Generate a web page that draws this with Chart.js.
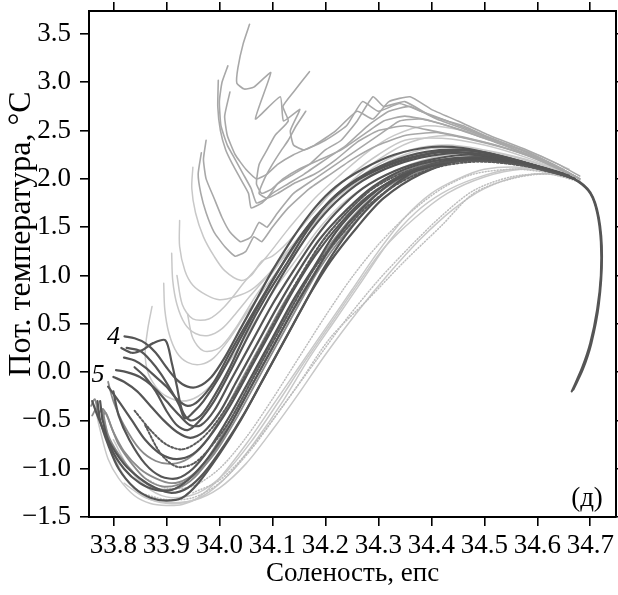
<!DOCTYPE html>
<html>
<head>
<meta charset="utf-8">
<script src="https://cdn.jsdelivr.net/npm/chart.js@4.4.1/dist/chart.umd.min.js"></script>
<style>
  html, body { margin: 0; padding: 0; background: #fff; }
  #tsChart { display: block; }
</style>
</head>
<body>
<canvas id="tsChart" width="618" height="595" style="width:618px;height:595px"></canvas>
<script>
// tick labels
const xTicks = [33.8, 33.9, 34.0, 34.1, 34.2, 34.3, 34.4, 34.5, 34.6, 34.7];
const yTicks = [-1.5, -1.0, -0.5, 0, 0.5, 1.0, 1.5, 2.0, 2.5, 3.0, 3.5];

// profiles: [salinity, pot. temperature]
// warm upper group
const warm1 = [[34.057,3.6],[34.045,3.4],[34.035,3.15],[34.033,2.99],[34.047,2.93],[34.065,2.95],[34.097,3.1],[34.068,2.62],[34.115,2.85],[34.121,2.6],[34.152,2.72],[34.134,2.5],[34.14,2.35],[34.16,2.3],[34.2,2.4],[34.24,2.55],[34.27,2.8],[34.3,2.7],[34.34,2.78],[34.38,2.7],[34.43,2.6],[34.5,2.45],[34.57,2.3],[34.63,2.15],[34.68,2.0]];
const warm2 = [[34.016,3.17],[34.005,3.0],[34.0,2.8],[34.003,2.55],[34.015,2.35],[34.03,2.2],[34.045,2.05],[34.06,1.9],[34.07,1.75],[34.09,1.8],[34.11,1.95],[34.14,2.05],[34.17,2.15],[34.2,2.3],[34.23,2.4],[34.26,2.6],[34.29,2.85],[34.31,2.75],[34.35,2.8],[34.4,2.65],[34.46,2.55],[34.52,2.4],[34.58,2.28],[34.64,2.12],[34.68,2.0]];
const warm3 = [[33.998,3.02],[33.997,2.75],[34.002,2.5],[34.012,2.3],[34.025,2.15],[34.04,2.0],[34.055,1.85],[34.06,1.7],[34.08,1.75],[34.1,1.85],[34.13,1.95],[34.16,2.05],[34.2,2.2],[34.24,2.35],[34.28,2.55],[34.32,2.7],[34.36,2.75],[34.41,2.62],[34.47,2.5],[34.53,2.37],[34.6,2.2],[34.66,2.06]];
const warm4 = [[34.17,3.11],[34.14,2.9],[34.12,2.75],[34.13,2.6],[34.105,2.45],[34.09,2.3],[34.075,2.15],[34.07,1.95],[34.08,1.85],[34.1,1.9],[34.12,2.0],[34.15,2.1],[34.19,2.2],[34.23,2.3],[34.27,2.45],[34.31,2.6],[34.35,2.65],[34.4,2.6],[34.46,2.5],[34.52,2.38],[34.58,2.26],[34.64,2.12],[34.68,2.0]];
const warm5 = [[34.163,2.7],[34.145,2.55],[34.13,2.4],[34.115,2.28],[34.1,2.15],[34.085,2.0],[34.075,1.85],[34.09,1.8],[34.11,1.85],[34.14,1.95],[34.18,2.05],[34.22,2.2],[34.26,2.38],[34.3,2.5],[34.35,2.55],[34.4,2.5],[34.47,2.42],[34.54,2.32],[34.6,2.2],[34.66,2.05]];
const warm6 = [[33.975,2.4],[33.97,2.2],[33.975,2.0],[33.99,1.8],[34.005,1.6],[34.02,1.45],[34.04,1.35],[34.06,1.4],[34.075,1.55],[34.09,1.5],[34.11,1.65],[34.14,1.85],[34.18,2.0],[34.22,2.15],[34.26,2.3],[34.3,2.45],[34.34,2.6],[34.38,2.62],[34.43,2.55],[34.5,2.42],[34.57,2.3],[34.63,2.15],[34.68,2.0]];
const warm7 = [[33.966,2.27],[33.96,2.05],[33.965,1.85],[33.975,1.65],[33.99,1.45],[34.01,1.3],[34.03,1.2],[34.05,1.25],[34.065,1.4],[34.08,1.35],[34.1,1.5],[34.13,1.7],[34.17,1.9],[34.21,2.05],[34.25,2.2],[34.3,2.35],[34.35,2.45],[34.41,2.48],[34.48,2.4],[34.55,2.3],[34.62,2.17],[34.68,2.0]];
const warm8 = [[34.02,2.9],[34.01,2.65],[34.015,2.45],[34.03,2.25],[34.05,2.1],[34.07,2.0],[34.09,2.05],[34.11,2.15],[34.14,2.25],[34.18,2.35],[34.22,2.5],[34.26,2.7],[34.29,2.62],[34.32,2.8],[34.36,2.85],[34.4,2.72],[34.45,2.6],[34.51,2.45],[34.58,2.3],[34.64,2.15],[34.68,2.03]];

// middle light group
const mid1 = [[33.95,2.12],[33.948,1.9],[33.955,1.65],[33.97,1.4],[33.99,1.2],[34.01,1.05],[34.04,0.95],[34.06,1.0],[34.08,1.15],[34.1,1.2],[34.13,1.35],[34.17,1.6],[34.21,1.85],[34.25,2.05],[34.3,2.25],[34.35,2.4],[34.42,2.42],[34.5,2.35],[34.58,2.22],[34.66,2.05]];
const mid2 = [[33.925,1.57],[33.925,1.3],[33.935,1.05],[33.95,0.9],[33.975,0.8],[34.0,0.75],[34.03,0.78],[34.06,0.85],[34.09,1.0],[34.12,1.2],[34.16,1.45],[34.2,1.7],[34.25,1.95],[34.3,2.15],[34.36,2.3],[34.43,2.35],[34.5,2.3],[34.58,2.2],[34.66,2.04]];
const mid3 = [[33.91,1.23],[33.912,0.95],[33.92,0.7],[33.935,0.5],[33.955,0.4],[33.98,0.38],[34.005,0.45],[34.03,0.6],[34.06,0.8],[34.1,1.05],[34.14,1.3],[34.18,1.55],[34.22,1.8],[34.27,2.0],[34.32,2.18],[34.38,2.3],[34.45,2.32],[34.52,2.27],[34.6,2.16],[34.67,2.02]];
const mid4 = [[33.895,0.92],[33.897,0.65],[33.905,0.4],[33.92,0.2],[33.94,0.1],[33.965,0.08],[33.99,0.15],[34.02,0.35],[34.05,0.6],[34.09,0.9],[34.13,1.2],[34.17,1.48],[34.21,1.72],[34.26,1.95],[34.31,2.12],[34.37,2.25],[34.44,2.3],[34.52,2.25],[34.6,2.15],[34.67,2.02]];
const mid5 = [[33.873,0.68],[33.865,0.45],[33.86,0.2],[33.865,0.0],[33.88,-0.15],[33.9,-0.25],[33.93,-0.3],[33.96,-0.25],[33.99,-0.1],[34.03,0.2],[34.07,0.55],[34.11,0.9],[34.15,1.2],[34.19,1.5],[34.24,1.78],[34.3,2.0],[34.36,2.15],[34.43,2.25],[34.5,2.25],[34.58,2.17],[34.66,2.04]];
const mid6 = [[33.94,0.6],[33.95,0.35],[33.97,0.22],[34.0,0.25],[34.03,0.45],[34.07,0.8],[34.11,1.1],[34.15,1.4],[34.2,1.72],[34.25,1.98],[34.3,2.2],[34.36,2.38],[34.43,2.45],[34.5,2.38],[34.58,2.25],[34.65,2.1]];
const mid7 = [[33.92,1.0],[33.93,0.7],[33.95,0.55],[33.98,0.55],[34.01,0.68],[34.05,0.95],[34.09,1.2],[34.13,1.48],[34.18,1.8],[34.23,2.05],[34.28,2.28],[34.33,2.45],[34.39,2.55],[34.46,2.5],[34.53,2.38],[34.6,2.25],[34.66,2.1]];

// dark group (labels 4 and 5)
const dark1 = [[33.821,0.37],[33.84,0.35],[33.86,0.3],[33.88,0.2],[33.9,0.05],[33.92,-0.08],[33.94,-0.15],[33.96,-0.15],[33.985,-0.05],[34.01,0.15],[34.04,0.45],[34.07,0.75],[34.1,1.05],[34.14,1.4],[34.18,1.7],[34.22,1.92],[34.27,2.1],[34.33,2.25],[34.4,2.33],[34.46,2.32],[34.52,2.25],[34.58,2.16],[34.64,2.07],[34.675,1.98],[34.7,1.85],[34.713,1.65],[34.72,1.35],[34.72,1.0],[34.713,0.65],[34.7,0.3],[34.685,0.05],[34.665,-0.2]];
const dark2 = [[33.815,0.25],[33.835,0.2],[33.855,0.23],[33.875,0.3],[33.898,0.33],[33.91,0.1],[33.92,-0.15],[33.93,-0.4],[33.945,-0.5],[33.965,-0.45],[33.99,-0.25],[34.02,0.05],[34.05,0.4],[34.09,0.8],[34.13,1.15],[34.17,1.5],[34.21,1.78],[34.26,2.0],[34.32,2.17],[34.39,2.28],[34.46,2.3],[34.53,2.24],[34.6,2.13],[34.67,2.0],[34.7,1.86],[34.716,1.6],[34.722,1.2],[34.716,0.7],[34.702,0.3],[34.686,0.03],[34.668,-0.18]];
const dark3 = [[33.82,0.15],[33.84,0.12],[33.86,0.05],[33.88,-0.05],[33.9,-0.15],[33.92,-0.28],[33.94,-0.35],[33.96,-0.3],[33.99,-0.1],[34.02,0.2],[34.06,0.58],[34.1,0.95],[34.14,1.3],[34.18,1.6],[34.23,1.88],[34.29,2.08],[34.36,2.22],[34.43,2.28],[34.5,2.25],[34.58,2.15],[34.66,2.03]];
const dark4 = [[33.805,0.02],[33.825,0.0],[33.85,-0.05],[33.875,-0.15],[33.9,-0.3],[33.925,-0.45],[33.945,-0.55],[33.965,-0.55],[33.99,-0.4],[34.02,-0.1],[34.06,0.3],[34.1,0.7],[34.14,1.05],[34.18,1.38],[34.22,1.65],[34.27,1.9],[34.33,2.08],[34.4,2.2],[34.47,2.25],[34.54,2.2],[34.61,2.11],[34.67,2.0]];
const dark5 = [[33.8,-0.05],[33.82,-0.1],[33.845,-0.2],[33.87,-0.35],[33.895,-0.5],[33.92,-0.62],[33.945,-0.68],[33.97,-0.62],[34.0,-0.42],[34.03,-0.12],[34.07,0.28],[34.11,0.68],[34.15,1.05],[34.19,1.38],[34.24,1.68],[34.29,1.92],[34.35,2.1],[34.42,2.2],[34.5,2.22],[34.58,2.15],[34.66,2.03]];
const dark6 = [[33.825,0.25],[33.85,0.22],[33.87,0.12],[33.89,-0.02],[33.91,-0.2],[33.925,-0.35],[33.935,-0.48],[33.95,-0.42],[33.97,-0.3],[34.0,-0.05],[34.035,0.3],[34.075,0.7],[34.115,1.08],[34.155,1.42],[34.2,1.72],[34.25,1.95],[34.31,2.12],[34.38,2.24],[34.45,2.3],[34.52,2.25],[34.6,2.13],[34.67,2.0]];
const dark7 = [[33.84,0.05],[33.86,-0.05],[33.88,-0.2],[33.9,-0.4],[33.92,-0.55],[33.94,-0.6],[33.96,-0.52],[33.99,-0.3],[34.02,0.0],[34.055,0.38],[34.095,0.78],[34.135,1.15],[34.175,1.48],[34.22,1.76],[34.27,1.98],[34.33,2.14],[34.4,2.24],[34.47,2.27],[34.55,2.2],[34.62,2.1],[34.67,2.0]];
const dark8 = [[33.79,-0.15],[33.81,-0.3],[33.835,-0.5],[33.86,-0.7],[33.89,-0.85],[33.92,-0.9],[33.95,-0.85],[33.98,-0.68],[34.02,-0.35],[34.06,0.05],[34.1,0.45],[34.14,0.85],[34.18,1.2],[34.23,1.55],[34.28,1.82],[34.34,2.02],[34.41,2.15],[34.49,2.2],[34.57,2.15],[34.65,2.04]];
const dark9 = [[33.775,-0.3],[33.78,-0.5],[33.795,-0.78],[33.82,-1.0],[33.85,-1.15],[33.88,-1.22],[33.91,-1.22],[33.94,-1.12],[33.98,-0.88],[34.02,-0.55],[34.06,-0.15],[34.1,0.25],[34.14,0.65],[34.18,1.02],[34.22,1.38],[34.27,1.7],[34.33,1.98],[34.4,2.13],[34.48,2.2],[34.57,2.16],[34.65,2.05]];

// cold group
const cold1 = [[33.765,-0.35],[33.775,-0.6],[33.79,-0.9],[33.81,-1.1],[33.84,-1.28],[33.87,-1.36],[33.9,-1.38],[33.93,-1.37],[33.96,-1.3],[34.0,-1.1],[34.05,-0.75],[34.1,-0.35],[34.15,0.05],[34.2,0.45],[34.25,0.85],[34.3,1.25],[34.35,1.6],[34.4,1.85],[34.45,2.0],[34.5,2.1],[34.57,2.12],[34.64,2.05]];
const cold2 = [[33.77,-0.3],[33.775,-0.5],[33.79,-0.75],[33.81,-1.0],[33.84,-1.2],[33.87,-1.3],[33.9,-1.33],[33.93,-1.3],[33.96,-1.15],[34.0,-0.85],[34.04,-0.5],[34.08,-0.1],[34.12,0.3],[34.16,0.7],[34.2,1.1],[34.25,1.5],[34.3,1.8],[34.36,2.05],[34.42,2.18],[34.5,2.2],[34.58,2.15],[34.65,2.05]];
const cold3 = [[33.78,-0.4],[33.79,-0.65],[33.81,-0.85],[33.84,-1.05],[33.87,-1.18],[33.9,-1.22],[33.93,-1.18],[33.96,-1.05],[34.0,-0.75],[34.04,-0.35],[34.08,0.05],[34.12,0.45],[34.16,0.85],[34.2,1.2],[34.25,1.55],[34.3,1.85],[34.37,2.08],[34.45,2.2],[34.55,2.18],[34.64,2.06]];
const cold4 = [[33.8,-0.2],[33.81,-0.45],[33.83,-0.7],[33.86,-0.95],[33.89,-1.08],[33.92,-1.1],[33.95,-1.0],[33.98,-0.8],[34.02,-0.45],[34.06,-0.05],[34.1,0.35],[34.14,0.75],[34.18,1.1],[34.22,1.45],[34.27,1.75],[34.33,2.0],[34.4,2.15],[34.48,2.22],[34.56,2.17],[34.64,2.06]];
const cold5 = [[33.79,-0.1],[33.8,-0.3],[33.82,-0.55],[33.85,-0.8],[33.88,-0.92],[33.91,-0.95],[33.94,-0.9],[33.97,-0.75],[34.0,-0.5],[34.04,-0.1],[34.08,0.3],[34.12,0.7],[34.16,1.05],[34.2,1.4],[34.25,1.7],[34.3,1.95],[34.37,2.12],[34.45,2.22],[34.55,2.2],[34.64,2.07]];
const cold6 = [[33.85,-1.25],[33.9,-1.32],[33.95,-1.3],[34.0,-1.15],[34.06,-0.8],[34.12,-0.35],[34.18,0.1],[34.24,0.55],[34.3,0.95],[34.36,1.3],[34.42,1.62],[34.48,1.88],[34.55,2.02],[34.62,2.05],[34.68,1.98]];
const cold7 = [[33.78,-0.45],[33.8,-0.85],[33.83,-1.15],[33.87,-1.32],[33.92,-1.36],[33.97,-1.28],[34.02,-1.05],[34.07,-0.7],[34.12,-0.3],[34.17,0.15],[34.22,0.55],[34.27,0.95],[34.32,1.35],[34.37,1.65],[34.42,1.85],[34.48,2.0],[34.55,2.1],[34.63,2.07],[34.68,1.97]];
const cold8 = [[33.76,-0.3],[33.77,-0.45],[33.79,-0.7],[33.82,-0.95],[33.85,-1.1],[33.88,-1.2],[33.91,-1.25],[33.94,-1.2],[33.97,-1.05],[34.01,-0.75],[34.05,-0.4],[34.09,0.0],[34.13,0.4],[34.17,0.8],[34.21,1.15],[34.26,1.5],[34.31,1.8],[34.38,2.05],[34.46,2.2],[34.55,2.2],[34.65,2.05]];
const cold9 = [[33.758,-0.35],[33.765,-0.28],[33.772,-0.42],[33.78,-0.38],[33.79,-0.48],[33.8,-0.62],[33.82,-0.82],[33.85,-1.0],[33.88,-1.1],[33.91,-1.15],[33.94,-1.1],[33.97,-0.95],[34.0,-0.7],[34.04,-0.3],[34.08,0.12],[34.12,0.52],[34.16,0.9],[34.2,1.25],[34.25,1.6],[34.31,1.9],[34.38,2.1],[34.46,2.2],[34.55,2.18],[34.64,2.06]];
const cold10 = [[33.84,-0.4],[33.87,-0.6],[33.9,-0.75],[33.93,-0.8],[33.96,-0.72],[33.99,-0.55],[34.03,-0.22],[34.07,0.18],[34.11,0.58],[34.15,0.97],[34.19,1.32],[34.24,1.65],[34.29,1.9],[34.35,2.07],[34.42,2.17],[34.5,2.18],[34.58,2.13],[34.66,2.02]];
const cold11 = [[33.86,-1.1],[33.9,-1.2],[33.95,-1.18],[34.0,-1.0],[34.05,-0.68],[34.1,-0.28],[34.15,0.15],[34.2,0.58],[34.25,0.98],[34.3,1.32],[34.36,1.65],[34.42,1.9],[34.48,2.05],[34.56,2.1],[34.64,2.05]];
const cold12 = [[33.95,-1.25],[34.0,-1.12],[34.05,-0.85],[34.1,-0.5],[34.15,-0.12],[34.21,0.36],[34.28,0.75],[34.35,1.15],[34.42,1.52],[34.48,1.85],[34.55,2.0],[34.62,2.05],[34.68,1.97]];
const cold13 = [[33.8,-0.7],[33.83,-1.0],[33.87,-1.22],[33.91,-1.3],[33.96,-1.25],[34.01,-1.05],[34.06,-0.72],[34.11,-0.32],[34.16,0.1],[34.21,0.5],[34.26,0.9],[34.31,1.28],[34.37,1.6],[34.43,1.85],[34.5,2.02],[34.57,2.1],[34.64,2.07]];
const cold14 = [[33.82,-1.15],[33.86,-1.3],[33.9,-1.35],[33.95,-1.33],[34.0,-1.2],[34.05,-0.95],[34.1,-0.6],[34.15,-0.22],[34.2,0.18],[34.26,0.62],[34.32,1.02],[34.38,1.38],[34.44,1.68],[34.5,1.9],[34.57,2.03],[34.64,2.05],[34.68,1.98]];
const cold16 = [[33.76,-0.45],[33.768,-0.38],[33.775,-0.5],[33.785,-0.42],[33.795,-0.55],[33.81,-0.75],[33.835,-0.95],[33.86,-1.1],[33.89,-1.18],[33.92,-1.17],[33.95,-1.08],[33.99,-0.85],[34.03,-0.5],[34.07,-0.1],[34.11,0.3],[34.15,0.7],[34.19,1.08],[34.24,1.45],[34.29,1.75],[34.35,2.0],[34.42,2.15],[34.5,2.2],[34.58,2.15],[34.66,2.04]];
const cold17 = [[33.86,-0.55],[33.89,-0.85],[33.92,-0.98],[33.95,-0.95],[33.98,-0.8],[34.02,-0.5],[34.06,-0.1],[34.1,0.3],[34.14,0.7],[34.18,1.08],[34.23,1.42],[34.28,1.72],[34.34,1.96],[34.41,2.12],[34.49,2.18],[34.57,2.14],[34.65,2.04]];

const STYLES = {
  light:    { color: '#c8c8c8', width: 1.5, dash: [],     order: 4 },
  dotted:   { color: '#bdbdbd', width: 1.5, dash: [1, 2], order: 4 },
  warm:     { color: '#a8a8a8', width: 1.6, dash: [],     order: 3 },
  mid:      { color: '#8a8a8a', width: 1.8, dash: [],     order: 2 },
  dashDark: { color: '#5a5a5a', width: 2,   dash: [2, 2], order: 1 },
  dark:     { color: '#555555', width: 2.2, dash: [],     order: 1 }
};

const profiles = [
  [cold12, 'dotted'], [cold6, 'dotted'], [cold11, 'dotted'],
  [cold1, 'light'], [cold7, 'light'], [cold13, 'light'], [cold14, 'light'],
  [mid1, 'light'], [mid2, 'light'], [mid3, 'light'], [mid4, 'light'], [mid5, 'light'], [mid6, 'light'], [mid7, 'light'],
  [warm1, 'warm'], [warm2, 'warm'], [warm3, 'warm'], [warm4, 'warm'], [warm5, 'warm'], [warm6, 'warm'], [warm7, 'warm'], [warm8, 'warm'],
  [cold3, 'mid'], [cold5, 'mid'], [cold9, 'mid'], [cold16, 'mid'],
  [cold10, 'dashDark'], [cold17, 'dashDark'],
  [cold2, 'dark'], [cold4, 'dark'], [cold8, 'dark'],
  [dark1, 'dark'], [dark2, 'dark'], [dark3, 'dark'], [dark4, 'dark'], [dark5, 'dark'], [dark6, 'dark'],
  [dark7, 'dark'], [dark8, 'dark'], [dark9, 'dark']
];

const datasets = profiles.map(([pts, kind]) => {
  const st = STYLES[kind];
  return {
    data: pts.map(p => ({ x: p[0], y: p[1] })),
    showLine: true,
    borderColor: st.color,
    borderWidth: st.width,
    borderDash: st.dash,
    tension: kind === 'warm' ? 0.15 : 0.3,
    pointRadius: 0,
    order: st.order,
    borderCapStyle: 'round',
    borderJoinStyle: 'round'
  };
});

const SERIF = 'Liberation Serif';
const fmt = v => Number(v).toFixed(1).replace('-', '\u2212');

const setTicks = arr => scale => { scale.ticks = arr.map(v => ({ value: v })); };
const tickGrid = { drawOnChartArea: false, drawTicks: true, tickLength: 9, color: '#000', lineWidth: 1.6 };
const frame = { display: true, color: '#000', width: 2 };
const noPad = s => { s.paddingTop = 0; s.paddingBottom = 0; s.paddingLeft = 0; s.paddingRight = 0; };

const annotations = {
  id: 'annotations',
  afterDraw(chart) {
    const { ctx, chartArea, scales } = chart;
    ctx.save();
    ctx.fillStyle = '#000';
    // y axis title
    ctx.translate(22, 234);
    ctx.rotate(-Math.PI / 2);
    ctx.font = '32px "' + SERIF + '"';
    ctx.textAlign = 'center';
    ctx.textBaseline = 'middle';
    ctx.fillText('Пот. температура, °C', 0, 0);
    ctx.restore();

    ctx.save();
    ctx.fillStyle = '#000';
    ctx.textAlign = 'center';
    ctx.textBaseline = 'middle';
    ctx.font = 'italic 26px "' + SERIF + '"';
    ctx.fillText('4', scales.x.getPixelForValue(33.8), scales.y.getPixelForValue(0.36));
    ctx.fillText('5', scales.x.getPixelForValue(33.771), scales.y.getPixelForValue(-0.03));
    ctx.font = '27px "' + SERIF + '"';
    ctx.fillText('(д)', chartArea.right - 29, chartArea.bottom - 18);
    ctx.restore();
  }
};

new Chart(document.getElementById('tsChart'), {
  type: 'scatter',
  data: { datasets },
  options: {
    responsive: false,
    animation: false,
    events: [],
    layout: { padding: 0 },
    plugins: { legend: { display: false }, tooltip: { enabled: false } },
    scales: {
      x: {
        type: 'linear', position: 'bottom', min: 33.754, max: 34.7485,
        afterBuildTicks: setTicks(xTicks),
        afterFit: s => { s.height = 78; noPad(s); },
        ticks: { color: '#000', font: { family: SERIF, size: 27 }, padding: 4, maxRotation: 0, autoSkip: false, callback: fmt },
        grid: tickGrid, border: frame,
        title: { display: true, text: 'Соленость, епс', color: '#000', font: { family: SERIF, size: 27 }, padding: { top: 0, bottom: 5 } }
      },
      xTop: {
        type: 'linear', position: 'top', min: 33.754, max: 34.7485,
        afterBuildTicks: setTicks(xTicks),
        afterFit: s => { s.height = 11; noPad(s); },
        ticks: { display: false },
        grid: tickGrid, border: frame
      },
      y: {
        type: 'linear', position: 'left', min: -1.5, max: 3.738,
        afterBuildTicks: setTicks(yTicks),
        afterFit: s => { s.width = 89; noPad(s); },
        ticks: { color: '#000', font: { family: SERIF, size: 27 }, padding: 9, autoSkip: false, callback: fmt },
        grid: tickGrid, border: frame
      },
      yRight: {
        type: 'linear', position: 'right', min: -1.5, max: 3.738,
        afterBuildTicks: setTicks(yTicks),
        afterFit: s => { s.width = 2; noPad(s); },
        ticks: { display: false },
        grid: tickGrid, border: frame
      }
    }
  },
  plugins: [annotations]
});
</script>
</body>
</html>
